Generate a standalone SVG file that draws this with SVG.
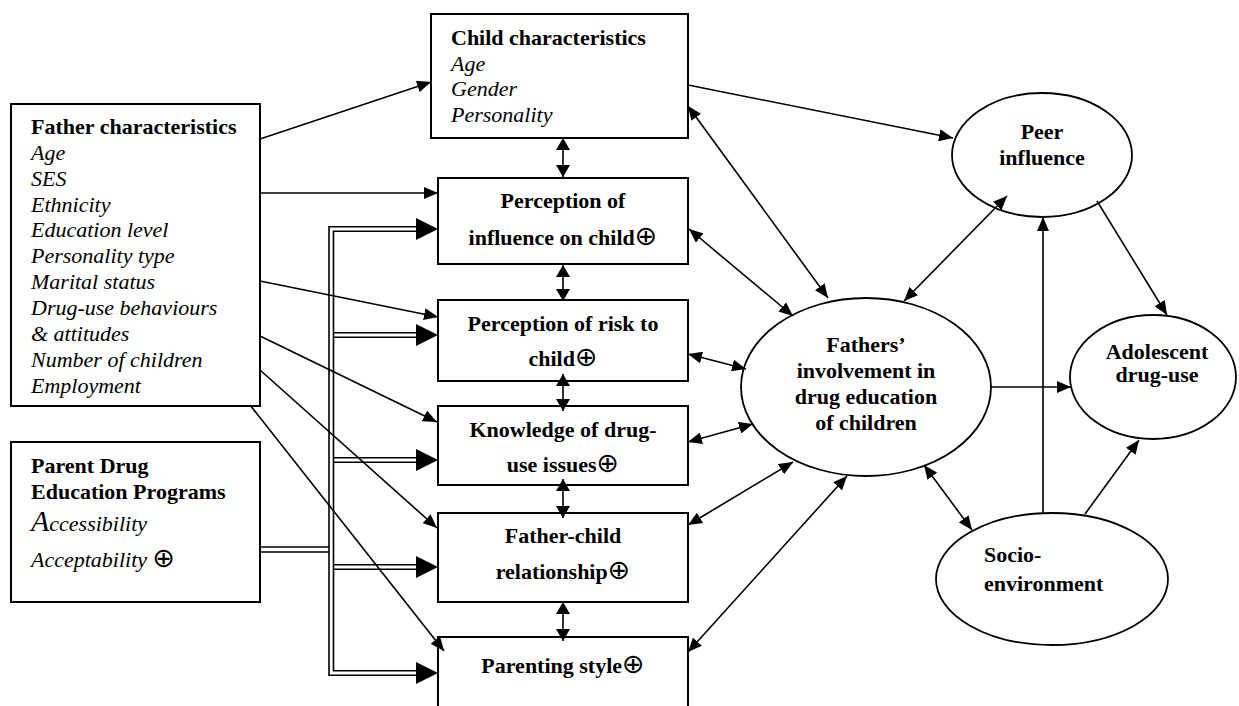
<svg xmlns="http://www.w3.org/2000/svg" width="1239" height="706" viewBox="0 0 1239 706">
<style>
.box{fill:#fff;stroke:#000;stroke-width:2}
.ell{fill:#fff;stroke:#000;stroke-width:1.8}
.c{stroke:#000;stroke-width:1.6;fill:none}
.a1{marker-end:url(#ah)}
.a2{marker-start:url(#ah);marker-end:url(#ah)}
.a3{marker-start:url(#ahs);marker-end:url(#ahs)}
.dbl{stroke:#000;stroke-width:1.6;fill:none}
.b{font-family:"Liberation Serif","Times New Roman",serif;font-weight:bold;font-size:22px;fill:#000}
.i{font-family:"Liberation Serif","Times New Roman",serif;font-style:italic;font-size:22px;fill:#000}
.mid{text-anchor:middle}
.sym{font-family:"DejaVu Sans",sans-serif;font-weight:normal;font-style:normal;font-size:27px}
</style>
<defs>
<marker id="ah" viewBox="0 0 14 12" refX="14" refY="6" markerWidth="14" markerHeight="12" markerUnits="userSpaceOnUse" orient="auto-start-reverse">
<path d="M0,0 L14,6 L0,12 z" fill="#000"/>
</marker>
<marker id="ahs" viewBox="0 0 12 14" refX="12" refY="7" markerWidth="12" markerHeight="14" markerUnits="userSpaceOnUse" orient="auto-start-reverse">
<path d="M0,0 L12,7 L0,14 z" fill="#000"/>
</marker>
<path id="bh" d="M0,0 L-22,-11 L-22,11 z" fill="#000"/>
</defs>
<rect width="1239" height="706" fill="#fff"/>

<g id="father">
<rect class="box" x="11" y="104" width="249" height="302"/>
<text class="b" x="31" y="134">Father characteristics</text>
<text class="i" x="31" y="160">Age</text>
<text class="i" x="31" y="186">SES</text>
<text class="i" x="31" y="212">Ethnicity</text>
<text class="i" x="31" y="237">Education level</text>
<text class="i" x="31" y="263">Personality type</text>
<text class="i" x="31" y="289">Marital status</text>
<text class="i" x="31" y="315">Drug-use behaviours</text>
<text class="i" x="31" y="341">&amp; attitudes</text>
<text class="i" x="31" y="367">Number of children</text>
<text class="i" x="31" y="393">Employment</text>
</g>

<g id="programs">
<rect class="box" x="11" y="442" width="249" height="160"/>
<text class="b" x="31" y="473">Parent Drug</text>
<text class="b" x="31" y="499">Education Programs</text>
<text class="i" x="31" y="531"><tspan font-size="30">A</tspan>ccessibility</text>
<text class="i" x="31" y="567">Acceptability <tspan class="sym" font-size="30">⊕</tspan></text>
</g>

<g id="child">
<rect class="box" x="431" y="14" width="257" height="124"/>
<text class="b" x="451" y="45">Child characteristics</text>
<text class="i" x="451" y="71">Age</text>
<text class="i" x="451" y="96">Gender</text>
<text class="i" x="451" y="122">Personality</text>
</g>

<g id="perc-influence">
<rect class="box" x="438" y="178" width="250" height="86"/>
<text class="b mid" x="563" y="208">Perception of</text>
<text class="b mid" x="563" y="245">influence on child<tspan class="sym">⊕</tspan></text>
</g>

<g id="perc-risk">
<rect class="box" x="438" y="300" width="250" height="81"/>
<text class="b mid" x="563" y="331">Perception of risk to</text>
<text class="b mid" x="563" y="366">child<tspan class="sym">⊕</tspan></text>
</g>

<g id="knowledge">
<rect class="box" x="438" y="406" width="250" height="79"/>
<text class="b mid" x="563" y="437">Knowledge of drug-</text>
<text class="b mid" x="563" y="472">use issues<tspan class="sym">⊕</tspan></text>
</g>

<g id="father-child">
<rect class="box" x="438" y="513" width="250" height="89"/>
<text class="b mid" x="563" y="543">Father-child</text>
<text class="b mid" x="563" y="579">relationship<tspan class="sym">⊕</tspan></text>
</g>

<g id="parenting">
<rect class="box" x="438" y="637" width="250" height="90"/>
<text class="b mid" x="563" y="673">Parenting style<tspan class="sym">⊕</tspan></text>
</g>

<g id="involvement">
<ellipse class="ell" cx="866" cy="387" rx="125" ry="89"/>
<text class="b mid" x="866" y="352">Fathers’</text>
<text class="b mid" x="866" y="378">involvement in</text>
<text class="b mid" x="866" y="404">drug education</text>
<text class="b mid" x="866" y="430">of children</text>
</g>

<g id="peer">
<ellipse class="ell" cx="1042" cy="155" rx="90" ry="62"/>
<text class="b mid" x="1042" y="139">Peer</text>
<text class="b mid" x="1042" y="165">influence</text>
</g>

<g id="adolescent">
<ellipse class="ell" cx="1153" cy="377" rx="83" ry="62"/>
<text class="b mid" x="1157" y="359" font-size="19">Adolescent</text>
<text class="b mid" x="1157" y="382" font-size="19">drug-use</text>
</g>

<g id="socio">
<ellipse class="ell" cx="1052" cy="579" rx="116" ry="66"/>
<text class="b" x="984" y="562" font-size="25">Socio-</text>
<text class="b" x="984" y="591" font-size="25">environment</text>
</g>

<g id="connectors">
<path class="c a1" d="M260,139 L431,82"/>
<path class="c a1" d="M260,193 L438,193"/>
<path class="c a1" d="M260,281 L438,317"/>
<path class="c a1" d="M260,336 L437,422"/>
<path class="c a1" d="M260,370 L437,528"/>
<path class="c a1" d="M250,405 L444,651"/>

<path class="c a3" d="M563,138 L563,177"/>
<path class="c a3" d="M563,265 L563,301"/>
<path class="c a3" d="M563,374 L563,411"/>
<path class="c a3" d="M563,479 L563,518"/>
<path class="c a3" d="M563,602 L563,641"/>

<path class="c a2" d="M688,106 L828,298"/>
<path class="c a2" d="M689,229 L793,316"/>
<path class="c a2" d="M688,354 L746,369"/>
<path class="c a2" d="M688,442 L753,424"/>
<path class="c a2" d="M688,525 L793,462"/>
<path class="c a2" d="M688,652 L847,476"/>

<path class="c a1" d="M688,85 L953,138"/>
<path class="c a2" d="M904,301 L1007,196"/>
<path class="c a1" d="M1097,201 L1167,315"/>
<path class="c a1" d="M1043,513 L1043,217"/>
<path class="c a1" d="M991,387 L1071,387"/>
<path class="c a1" d="M1085,514 L1139,440"/>
<path class="c a2" d="M924,465 L972,530"/>

<path class="dbl" d="M260,547 H329 M260,552 H329"/>
<path class="dbl" d="M418,226.7 H329 V675.3 H418"/>
<path class="dbl" d="M418,231.3 H333.5 V670.7 H418"/>
<path class="dbl" d="M333.5,332.7 H418 M333.5,337.3 H418"/>
<path class="dbl" d="M333.5,457.7 H418 M333.5,462.3 H418"/>
<path class="dbl" d="M333.5,564.7 H418 M333.5,569.3 H418"/>
<use href="#bh" x="438" y="229"/>
<use href="#bh" x="438" y="335"/>
<use href="#bh" x="438" y="460"/>
<use href="#bh" x="438" y="567"/>
<use href="#bh" x="438" y="673"/>
</g>
</svg>
